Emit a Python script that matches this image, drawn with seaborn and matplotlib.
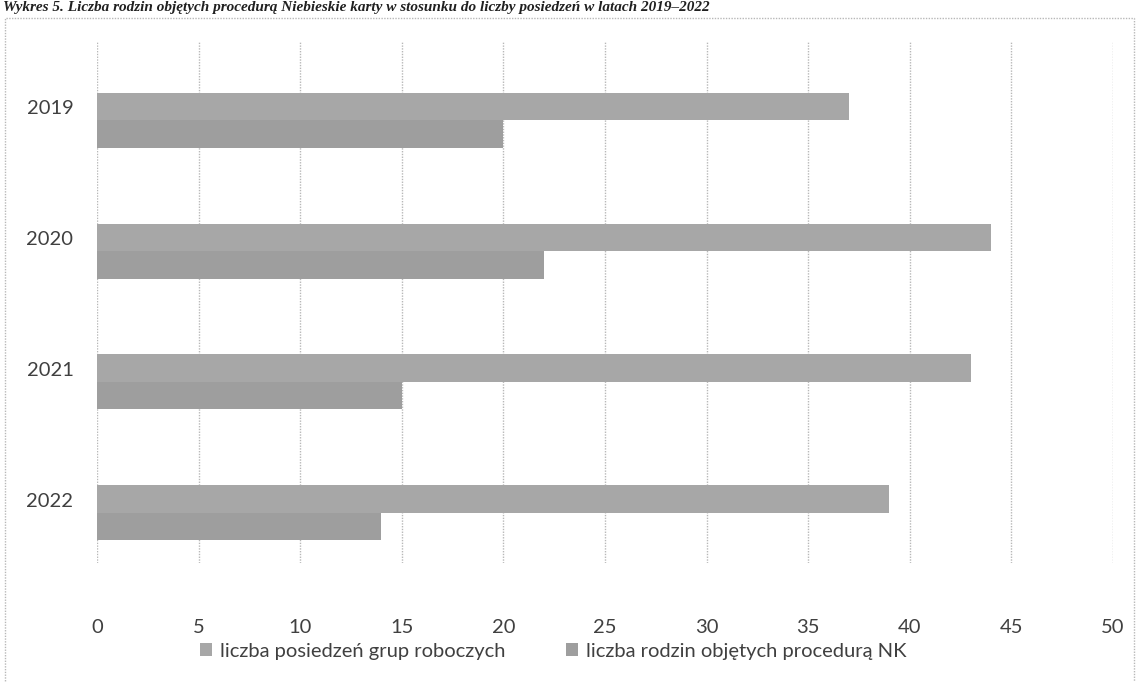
import pandas as pd
import seaborn as sns
import matplotlib.pyplot as plt
from matplotlib.patches import Rectangle

years = ['2019', '2020', '2021', '2022']
posiedzenia = [37, 44, 43, 39]
rodziny = [20, 22, 15, 14]
series_names = ['liczba posiedzeń grup roboczych', 'liczba rodzin objętych procedurą NK']
x_ticks = [0, 5, 10, 15, 20, 25, 30, 35, 40, 45, 50]

df = pd.DataFrame({
    'rok': years * 2,
    'wartosc': posiedzenia + rodziny,
    'seria': [series_names[0]] * len(years) + [series_names[1]] * len(years),
})

sns.set_theme(style='white')
plt.rcParams['font.family'] = ['Lato', 'DejaVu Sans']

fig = plt.figure(figsize=(11.39, 6.82), dpi=100)
ax = fig.add_axes([97 / 1139, 1 - 563 / 682, (1113 - 97) / 1139, (563 - 42) / 682])

sns.barplot(data=df, y='rok', x='wartosc', hue='seria', order=years,
            hue_order=series_names, palette=['#a7a7a7', '#9e9e9e'],
            width=0.42, orient='h', ax=ax, legend=True, saturation=1,
            linewidth=0, edgecolor='none')

ax.set_xlim(0, 50)
ax.set_ylim(3.385, -0.6)
ax.set_xticks(x_ticks)
ax.set_xticklabels([str(t) for t in x_ticks], fontsize=14.5, color='#404040')
ax.set_yticks([i - 0.1 for i in range(len(years))])
ax.set_yticklabels(years, fontsize=14.5, color='#404040')
ax.tick_params(axis='x', pad=40, length=0)
ax.tick_params(axis='y', pad=17, length=0)
ax.set_xlabel('')
ax.set_ylabel('')
ax.grid(axis='x', color='#b8b8b8', linestyle=(0, (1, 1)), linewidth=1)
ax.set_axisbelow(True)
for s in ax.spines.values():
    s.set_visible(False)

handles, labels = ax.get_legend_handles_labels()
ax.get_legend().remove()
fig.legend(handles, labels, loc='center', bbox_to_anchor=(553 / 1139, 1 - 651 / 682),
           ncol=2, frameon=False, fontsize=14.5, handlelength=0.6, handleheight=0.6,
           handletextpad=0.4, columnspacing=3.0, labelcolor='#404040')

# dotted chart frame and the caption above it
fig.patches.append(Rectangle((5 / 1139, -0.01), 1129 / 1139, 1 - 18 / 682 + 0.01,
                             transform=fig.transFigure, fill=False,
                             edgecolor='#b8b8b8', linestyle=(0, (1, 1)), linewidth=1))
fig.text(0.003, 0.999, 'Wykres 5. Liczba rodzin objętych procedurą Niebieskie karty w stosunku '
         'do liczby posiedzeń w latach 2019–2022',
         family=['Liberation Serif', 'DejaVu Serif'], style='italic', weight='bold',
         fontsize=11, va='top', ha='left', color='#202020')

fig.savefig('out.png', dpi=100)
